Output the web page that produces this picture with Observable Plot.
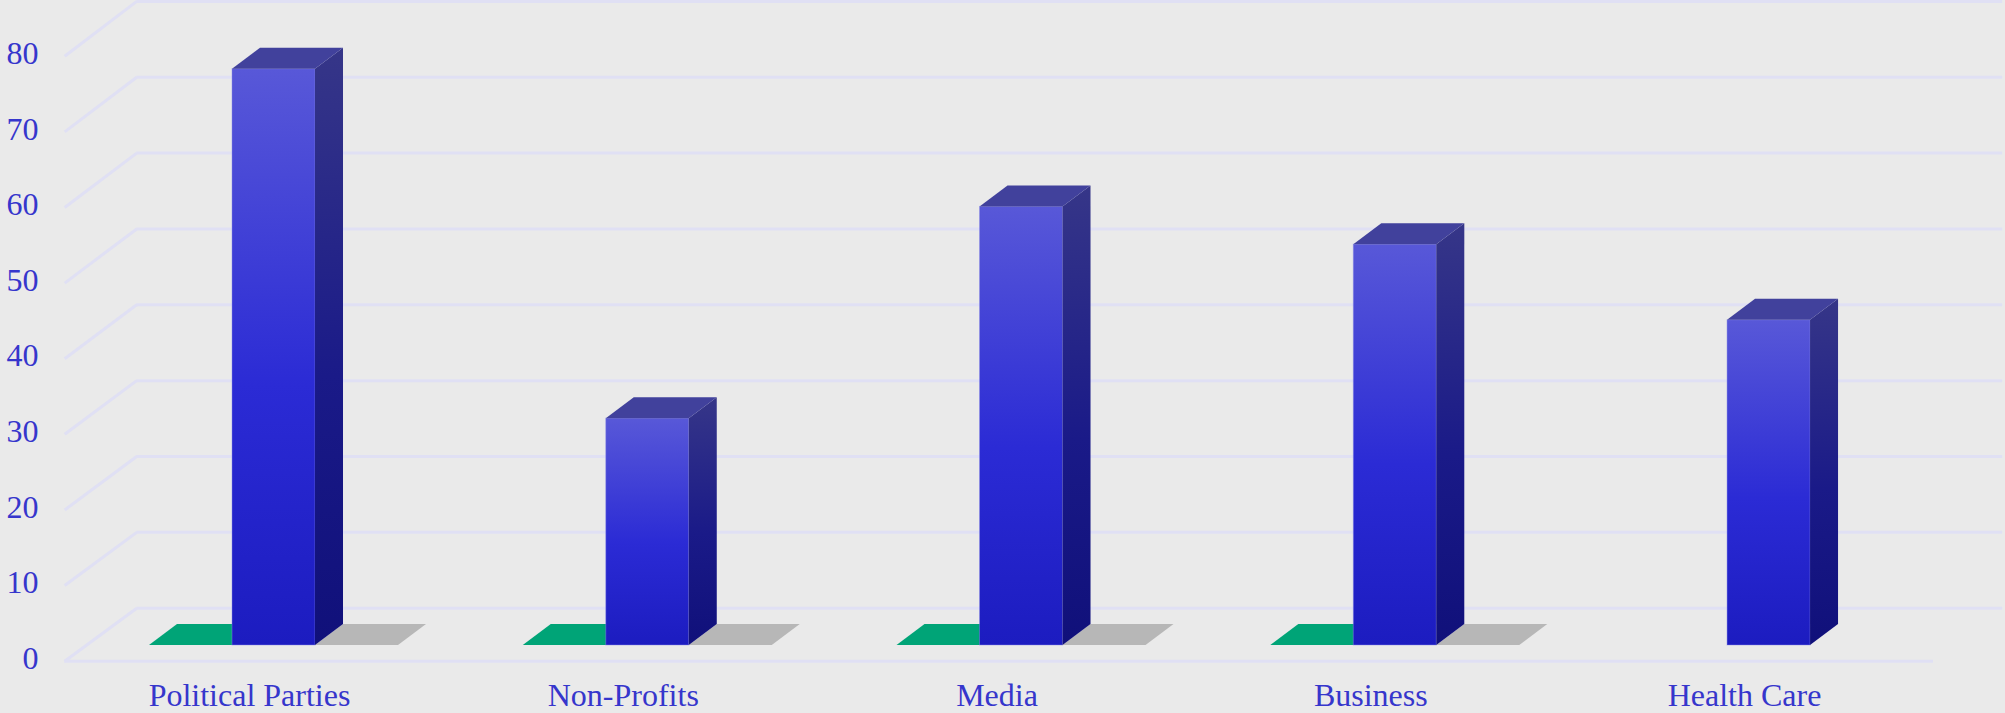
<!DOCTYPE html>
<html><head><meta charset="utf-8">
<script src="https://cdn.jsdelivr.net/npm/d3@7"></script>
<script src="https://cdn.jsdelivr.net/npm/@observablehq/plot@0.6"></script>
<style>html,body{margin:0;padding:0;background:#eaeaea}svg{display:block}</style>
</head><body><div id="chart"></div>
<script>
const categories = ["Political Parties","Non-Profits","Media","Business","Health Care"];
const greenValues = [0,0,0,0,null];
const blueValues = [76.2,30,58,53,43];
const grayValues = [0,0,0,0,null];
const yTicks = [0,10,20,30,40,50,60,70,80];

const GREEN="#00a477", GRAY="#b7b7b7", INK="#3636cc", GRID="#e0e0f4";
const floorStart=-0.56, floorEnd=4.44, backEnd=4.4325;
const barW=83/373.75;
const floorDx=72, floorDy=-53, depthDx=28, depthDy=-21, baseDy=-15.7, backStretch=1.003;
const rows=(vals,off)=>vals.map((value,i)=>({i,value,x1:i+(off-0.5)*barW,x2:i+(off+0.5)*barW})).filter(d=>d.value!=null);
const blue=rows(blueValues,0), green=rows(greenValues,-1), gray=rows(grayValues,1);

function face(kind,data,fill){
  return Plot.rect(data,{x1:"x1",x2:"x2",y1:()=>0,y2:"value",fill:"none",
    render(I,scales,values,dims,ctx){
      const g=d3.select(ctx.document.createElementNS("http://www.w3.org/2000/svg","g"));
      for(const k of I){
        const a=values.x1[k],b=values.x2[k],t=values.y2[k]+baseDy,u=values.y1[k]+baseDy;
        const pts=kind==="top"
          ?[[a,t],[b,t],[b+depthDx,t+depthDy],[a+depthDx,t+depthDy]]
          :[[b,t],[b+depthDx,t+depthDy],[b+depthDx,u+depthDy],[b,u]];
        g.append("polygon").attr("points",pts.join(" ")).attr("fill",fill);
      }
      return g.node();
    }});
}

const chart=Plot.plot({
  width:2005,height:713,marginLeft:40,marginRight:0,marginTop:0,marginBottom:32,
  style:{background:"#eaeaea",fontFamily:"'Liberation Serif','Times New Roman',serif"},
  x:{type:"linear",domain:[floorStart,floorEnd],range:[64.2,1933]},
  y:{domain:[0,80],range:[660.7,55.7]},
  marks:[
    ()=>{
      const s=d3.create("svg:defs");
      const grad=(id,stops)=>{const l=s.append("linearGradient").attr("id",id).attr("x1",0).attr("y1",0).attr("x2",0).attr("y2",1);
        stops.forEach(([o,c])=>l.append("stop").attr("offset",o).attr("stop-color",c));};
      grad("frontG",[[0,"#5858d8"],[0.55,"#2b2bd5"],[1,"#1c1cc0"]]);
      grad("sideG",[[0,"#363688"],[0.55,"#1a1a88"],[1,"#10107a"]]);
      return s.node();
    },
    Plot.ruleY(yTicks,{y:d=>d*backStretch,x1:()=>floorStart,x2:()=>backEnd,dx:floorDx,dy:floorDy,stroke:GRID,strokeWidth:3}),
    Plot.link(yTicks,{x1:()=>floorStart,y1:d=>d,x2:()=>floorStart+floorDx/373.75,y2:d=>d*backStretch-floorDy/7.5625,stroke:GRID,strokeWidth:3}),
    Plot.ruleY([0],{x1:()=>floorStart,x2:()=>floorEnd,stroke:GRID,strokeWidth:3}),
    face("top",green,GREEN),
    face("top",gray,GRAY),
    Plot.rect(blue,{x1:"x1",x2:"x2",y1:()=>0,y2:"value",dy:baseDy,fill:"url(#frontG)",stroke:"#8a8ae6",strokeOpacity:0.45,strokeWidth:1}),
    face("side",blue,"url(#sideG)"),
    face("top",blue,"#41419c"),
    Plot.axisY({ticks:yTicks,tickSize:0,tickPadding:2,fontSize:32,fill:INK,label:null,dy:-2.5}),
    Plot.axisX({ticks:[0,1,2,3,4],tickFormat:i=>categories[i],tickSize:0,tickPadding:2,fontSize:32,fill:INK,label:null,dx:-24.5})
  ]
});
document.getElementById("chart").append(chart);
</script></body></html>
